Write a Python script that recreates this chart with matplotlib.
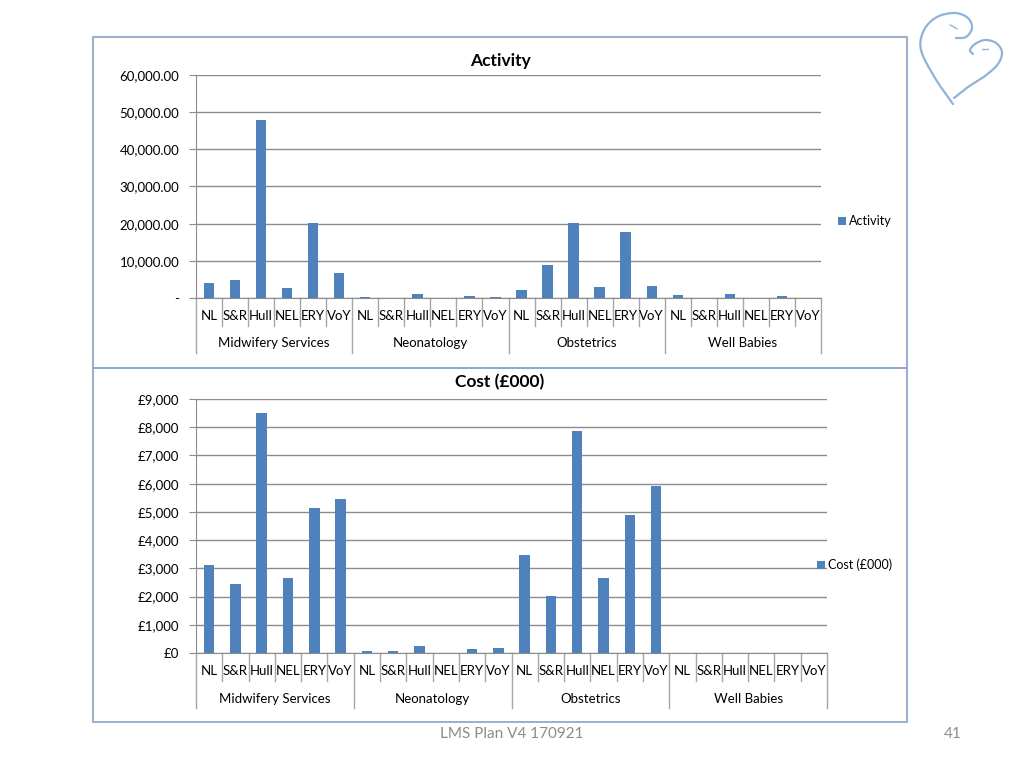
import matplotlib
matplotlib.use("Agg")
import matplotlib.pyplot as plt
import numpy as np
from matplotlib.patches import Rectangle
from matplotlib.lines import Line2D
import matplotlib.transforms as mtransforms

plt.rcParams['font.family'] = ['Lato', 'DejaVu Sans']

groups = ["Midwifery Services", "Neonatology", "Obstetrics", "Well Babies"]
subcats = ["NL", "S&R", "Hull", "NEL", "ERY", "VoY"]

activity = [4050, 4780, 48000, 2700, 20200, 6650,
            200, 100, 1170, 0, 540, 200,
            2070, 8830, 20200, 2880, 17660, 3150,
            900, 0, 1170, 0, 630, 0]
cost = [3110, 2435, 8500, 2650, 5130, 5460,
        83, 70, 260, 0, 140, 180,
        3490, 2020, 7870, 2650, 4905, 5910,
        0, 0, 0, 0, 0, 0]

act_ticks = [0, 10000, 20000, 30000, 40000, 50000, 60000]
act_ticklabels = ["-", "10,000.00", "20,000.00", "30,000.00", "40,000.00", "50,000.00", "60,000.00"]
cost_ticks = [0, 1000, 2000, 3000, 4000, 5000, 6000, 7000, 8000, 9000]
cost_ticklabels = ["£0", "£1,000", "£2,000", "£3,000", "£4,000", "£5,000", "£6,000", "£7,000", "£8,000", "£9,000"]

BAR = "#4F81BD"
GRID = "#8C8C8C"
W, H = 1024, 768

fig = plt.figure(figsize=(10.24, 7.68), dpi=100)

def fx(px):
    return px / W

def fy(py):
    return 1 - py / H

# panel boxes
for (y0, y1) in [(37, 368), (368, 722)]:
    fig.patches.append(Rectangle((fx(93), fy(y1)), fx(907) - fx(93), fy(y0) - fy(y1),
                                 transform=fig.transFigure, fill=False,
                                 edgecolor="#8EAACB", linewidth=1.3))

def make_chart(left, right, top, bottom, values, ticks, ticklabels, title, title_y,
               sub_y, grp_y, sep_small, sep_big, legend_xy, legend_label, ymax):
    ax = fig.add_axes([fx(left), fy(bottom), fx(right) - fx(left), fy(top) - fy(bottom)])
    n = len(values)
    x = np.arange(n)
    bars = ax.bar(x, values, width=0.4, color=BAR, zorder=3, label=legend_label)
    ax.set_xlim(-0.5, n - 0.5)
    ax.set_ylim(0, ymax)
    ax.set_yticks(ticks)
    ax.set_yticklabels(ticklabels, fontsize=9.5)
    ax.yaxis.grid(True, color=GRID, linewidth=1.0, zorder=0)
    ax.set_axisbelow(True)
    for s in ["top", "right"]:
        ax.spines[s].set_visible(False)
    ax.spines["left"].set_color(GRID)
    ax.spines["bottom"].set_color(GRID)
    ax.tick_params(axis="y", length=5, color=GRID, pad=7)
    ax.tick_params(axis="x", length=0, labelbottom=False)
    hpx = bottom - top
    trans = mtransforms.blended_transform_factory(ax.transData, ax.transAxes)
    # separators
    for i in range(n + 1):
        big = (i % len(subcats) == 0)
        yend = sep_big if big else sep_small
        ax.add_line(Line2D([i - 0.5, i - 0.5], [0, -(yend - bottom) / hpx],
                           transform=trans, color="#A6A6A6", linewidth=1.0, clip_on=False))
    for i in range(n):
        ax.text(i, -(sub_y - bottom) / hpx, subcats[i % len(subcats)], transform=trans,
                ha="center", va="center", fontsize=9.5, color="#000000")
    for g, name in enumerate(groups):
        xc = g * len(subcats) + (len(subcats) - 1) / 2
        ax.text(xc, -(grp_y - bottom) / hpx, name, transform=trans,
                ha="center", va="center", fontsize=9.5, color="#000000")
    fig.text(fx(500), fy(title_y), title, ha="center", va="center",
             fontsize=12.5, fontweight="bold")
    ax.legend(handles=[bars], loc="center left", bbox_to_anchor=(fx(legend_xy[0]), fy(legend_xy[1])),
              bbox_transform=fig.transFigure, frameon=False, fontsize=9,
              handlelength=0.6, handleheight=0.6, handletextpad=0.3, borderaxespad=0, borderpad=0)
    return ax

make_chart(196, 821, 75, 298, activity, act_ticks, act_ticklabels, "Activity", 61,
           316, 343, 326, 353, (838, 221), "Activity", 60000)
make_chart(196, 827, 399, 653, cost, cost_ticks, cost_ticklabels, "Cost (£000)", 382,
           671, 699, 681, 708, (817, 565), "Cost (£000)", 9000)

# footer
fig.text(fx(512), fy(734), "LMS Plan V4 170921", ha="center", va="center",
         fontsize=11, color="#8C8C8C")
fig.text(fx(953), fy(734), "41", ha="center", va="center", fontsize=11, color="#8C8C8C")

# heart logo (decorative)
def catmull(pts, k=20):
    pts = np.asarray(pts, float)
    P = np.vstack([pts[0], pts, pts[-1]])
    out = []
    for i in range(1, len(P) - 2):
        p0, p1, p2, p3 = P[i - 1], P[i], P[i + 1], P[i + 2]
        for t in np.linspace(0, 1, k, endpoint=False):
            t2, t3 = t * t, t * t * t
            out.append(0.5 * ((2 * p1) + (-p0 + p2) * t + (2 * p0 - 5 * p1 + 4 * p2 - p3) * t2
                              + (-p0 + 3 * p1 - 3 * p2 + p3) * t3))
    out.append(P[-2])
    return np.array(out)

left_lobe = [(953, 104), (935, 78), (921, 50), (924, 30), (937, 17), (955, 13),
             (968, 18), (972, 28), (966, 37), (956, 38)]
right_lobe = [(954, 98), (968, 87), (985, 76), (998, 64), (1002, 52), (996, 43),
              (985, 40), (975, 44), (970, 50), (973, 54)]
dash1 = [(950, 25), (954, 27), (957, 29)]
dash2 = [(982, 49), (985, 49), (988, 49)]
for pts, lw in [(left_lobe, 1.6), (right_lobe, 1.6), (dash1, 1.0), (dash2, 1.0)]:
    c = catmull(pts)
    fig.add_artist(Line2D(fx(c[:, 0]), fy(c[:, 1]), transform=fig.transFigure,
                          color="#8FB3D9", linewidth=lw, solid_capstyle="round"))

fig.savefig("out.png", dpi=100)
